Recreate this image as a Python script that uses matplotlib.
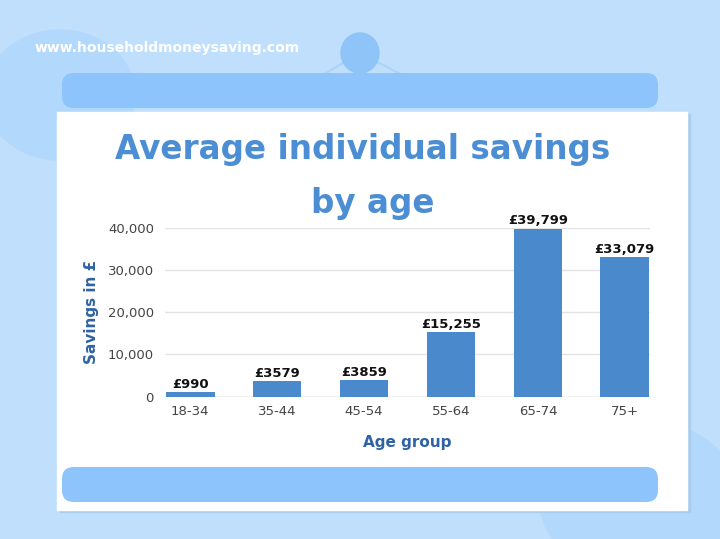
import matplotlib.pyplot as plt
from matplotlib.patches import FancyBboxPatch, Rectangle, Ellipse

# data
age_groups = ["18-34", "35-44", "45-54", "55-64", "65-74", "75+"]
savings = [990, 3579, 3859, 15255, 39799, 33079]
value_labels = ["£990", "£3579", "£3859", "£15,255", "£39,799", "£33,079"]
y_ticks = [0, 10000, 20000, 30000, 40000]

bg = "#bfdffc"
bar_col = "#4a89cc"

fig = plt.figure(figsize=(7.2, 5.39), dpi=100)
fig.patch.set_facecolor(bg)

# decoration layer in pixel coordinates
deco = fig.add_axes([0, 0, 1, 1])
deco.set_xlim(0, 720)
deco.set_ylim(539, 0)
deco.axis("off")
deco.add_patch(Ellipse((60, 95), 150, 130, color="#b2d8fb", zorder=0))
deco.add_patch(Ellipse((640, 500), 200, 160, color="#b2d8fb", zorder=0))
deco.plot([280, 360, 450], [100, 53, 100], color="#acd3f8", lw=1.5, zorder=0)
deco.add_patch(Ellipse((360, 53), 38, 40, color="#8fc4f8", zorder=1))
deco.add_patch(Rectangle((60, 114), 630, 398, color="#a9cdee", zorder=1))
deco.add_patch(Rectangle((57, 112), 630, 398, color="white", zorder=2))
for y0 in (73, 467):
    deco.add_patch(FancyBboxPatch((62, y0), 596, 35, boxstyle="round,pad=0,rounding_size=12",
                                  fc="#8cc4fb", ec="none", zorder=3))
deco.text(35, 48, "www.householdmoneysaving.com", color="white", fontsize=10,
          fontweight="bold", va="center", ha="left", zorder=4)
deco.text(363, 150, "Average individual savings", color="#4b8ed3", fontsize=23.5,
          fontweight="bold", ha="center", va="center", zorder=4)
deco.text(373, 203, "by age", color="#4b8ed3", fontsize=23.5,
          fontweight="bold", ha="center", va="center", zorder=4)

# chart
ax = fig.add_axes([165 / 720, 1 - 396.5 / 539, 485 / 720, 168.5 / 539])
ax.set_facecolor("none")
ax.bar(range(len(age_groups)), savings, width=0.56, color=bar_col, zorder=3)
for i, (v, lab) in enumerate(zip(savings, value_labels)):
    ax.annotate(lab, (i, v), xytext=(0, 1), textcoords="offset points",
                ha="center", va="bottom", fontsize=9.5, fontweight="bold",
                color="#111111", zorder=4)
ax.set_xlim(-0.29, 5.29)
ax.set_ylim(0, 40000)
ax.set_yticks(y_ticks)
ax.set_yticklabels([f"{t:,}" for t in y_ticks])
ax.set_xticks(range(len(age_groups)))
ax.set_xticklabels(age_groups)
ax.tick_params(length=0, colors="#444444", labelsize=9.5)
ax.tick_params(axis="y", pad=8)
ax.tick_params(axis="x", pad=6)
ax.grid(axis="y", color="#e3e3e3", lw=1, zorder=0)
for s in ax.spines.values():
    s.set_visible(False)
ax.axhline(0, color="#d0d0d0", lw=1, zorder=2)
ax.set_ylabel("Savings in £", color="#2f63a3", fontsize=11, fontweight="bold", labelpad=6)
ax.set_xlabel("Age group", color="#2f63a3", fontsize=11, fontweight="bold", labelpad=12)

fig.savefig("out.png", dpi=100, facecolor=fig.get_facecolor())
